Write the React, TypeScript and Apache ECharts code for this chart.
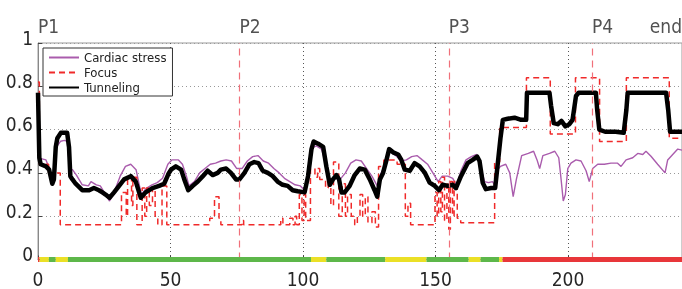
import React, { useEffect, useRef } from 'react';
import * as echarts from 'echarts';

const FONT = '"DejaVu Sans Condensed", "DejaVu Sans", sans-serif';

const cardiacStress: [number, number][] = [
  [0, 0.47], [1.5, 0.465], [3, 0.46], [4, 0.43], [5.4, 0.37], [6, 0.39], [7, 0.52], [8.5, 0.546], [10, 0.55],
  [11, 0.546], [12, 0.415], [13, 0.415], [14.5, 0.39], [16.7, 0.345], [19, 0.34], [20, 0.36], [22, 0.345],
  [23.5, 0.34], [25, 0.31], [27, 0.27], [29, 0.32], [31, 0.385], [33, 0.43], [35, 0.44], [37, 0.415],
  [39, 0.3], [41, 0.33], [43, 0.345], [45, 0.355], [47, 0.375], [49, 0.44], [50.5, 0.46], [53, 0.46],
  [54.5, 0.44], [56, 0.385], [57, 0.34], [59, 0.36], [61, 0.4], [63, 0.42], [65, 0.44], [67, 0.445],
  [69, 0.455], [71, 0.46], [73, 0.455], [75, 0.42], [77, 0.42], [79, 0.455], [81, 0.475], [83, 0.48],
  [85, 0.455], [87, 0.445], [89, 0.42], [91, 0.4], [93, 0.375], [95, 0.36], [97, 0.345], [99, 0.34],
  [100.6, 0.32], [102, 0.4], [103.5, 0.515], [105, 0.525], [107, 0.51], [108.8, 0.43], [110, 0.37],
  [112, 0.375], [114, 0.37], [116, 0.4], [118, 0.445], [120, 0.46], [122, 0.455], [124, 0.42],
  [126, 0.385], [128, 0.34], [129.5, 0.4], [131.5, 0.445], [132.5, 0.5], [135, 0.48], [137, 0.455],
  [139, 0.46], [141, 0.475], [143, 0.48], [145, 0.46], [147, 0.44], [149, 0.4], [151, 0.36],
  [152.5, 0.385], [154.6, 0.385], [156.5, 0.375], [158, 0.34], [159.6, 0.41], [161.5, 0.46],
  [163.5, 0.475], [165.5, 0.485], [167, 0.43], [168.5, 0.36], [170, 0.355], [171.5, 0.36],
  [172.5, 0.34], [173.5, 0.415], [174.5, 0.43], [176.5, 0.44], [178, 0.4], [179.3, 0.29], [180.5, 0.37],
  [182.5, 0.48], [185, 0.49], [187, 0.5], [188.3, 0.46], [189.3, 0.42], [190.5, 0.48], [193, 0.49],
  [195, 0.5], [196.5, 0.47], [197.3, 0.38], [198.2, 0.27], [199, 0.3], [199.9, 0.42], [201.1, 0.445],
  [203, 0.46], [204.9, 0.455], [206.8, 0.41], [208, 0.36], [209.3, 0.42], [211.2, 0.44], [213.7, 0.44],
  [216.2, 0.445], [218.7, 0.445], [220, 0.43], [221.9, 0.46], [224.4, 0.47], [226.3, 0.49],
  [228.2, 0.485], [229.4, 0.5], [231.3, 0.477], [233.8, 0.44], [236.6, 0.4], [237.6, 0.46],
  [239.5, 0.485], [241.4, 0.51], [243, 0.505],
];

const focus: [number, number][] = [
  [0, 0.82], [0.5, 0.44], [4, 0.4], [8.4, 0.16], [31.5, 0.31], [33.3, 0.2], [33.8, 0.38], [35.3, 0.25],
  [35.8, 0.38], [37.3, 0.16], [39.3, 0.33], [40.3, 0.2], [41, 0.33], [42, 0.25], [43.2, 0.33], [44.2, 0.2],
  [45.2, 0.16], [46.8, 0.34], [48.6, 0.16], [64.8, 0.19], [66.6, 0.29], [68.3, 0.19], [69, 0.16],
  [77, 0.18], [77.6, 0.16], [91.6, 0.19], [92.4, 0.16], [95, 0.19], [96.2, 0.16], [97, 0.2], [97.6, 0.16],
  [98.6, 0.3], [99.6, 0.18], [100.4, 0.3], [101, 0.18], [102.8, 0.42], [104.5, 0.38], [105.5, 0.42],
  [106.3, 0.37], [108.5, 0.33], [109.5, 0.37], [110.5, 0.25], [111.5, 0.45], [113.5, 0.2], [114.8, 0.35],
  [116, 0.2], [116.8, 0.3], [118.2, 0.2], [119.5, 0.16], [120.5, 0.2], [121.5, 0.3], [122.5, 0.2],
  [123.5, 0.29], [124.5, 0.17], [126, 0.22], [127.3, 0.15], [128.5, 0.43], [130.5, 0.46], [135.5, 0.44],
  [138.6, 0.2], [139.6, 0.26], [140.6, 0.16], [149.8, 0.31], [150.6, 0.2], [151.2, 0.36], [152, 0.22],
  [152.6, 0.38], [153.4, 0.18], [154.3, 0.35], [155, 0.14], [155.6, 0.36], [156.4, 0.2], [157, 0.36],
  [158.2, 0.19], [159.5, 0.17], [172.3, 0.45], [174.2, 0.61], [184.3, 0.84], [193.3, 0.58],
  [202.8, 0.84], [211.9, 0.545], [222, 0.84], [238.2, 0.56], [243, 0.56],
];

const tunneling: [number, number][] = [
  [0, 0.77], [0.5, 0.47], [1, 0.44], [3, 0.43], [4.2, 0.415], [5.4, 0.35], [6, 0.37], [6.7, 0.52],
  [7.3, 0.56], [8.6, 0.585], [11, 0.585], [11.7, 0.52], [12.2, 0.385], [13, 0.37], [14.2, 0.35],
  [16.7, 0.32], [19.3, 0.32], [21.1, 0.33], [23, 0.32], [24.3, 0.31], [25.5, 0.3], [27, 0.285],
  [28.7, 0.31], [30.6, 0.34], [32.5, 0.37], [35, 0.385], [36.9, 0.36], [38.8, 0.285], [40.6, 0.31],
  [43.2, 0.33], [45.7, 0.34], [47.6, 0.35], [49.4, 0.4], [50.2, 0.415], [52, 0.43], [54, 0.415],
  [55.2, 0.37], [56.7, 0.32], [58.4, 0.34], [60.3, 0.36], [62.2, 0.385], [64, 0.41], [65.9, 0.39],
  [67.8, 0.4], [69, 0.415], [71, 0.42], [72.8, 0.4], [74.7, 0.37], [76, 0.37], [77.9, 0.4], [79.8, 0.44],
  [81.6, 0.45], [83.2, 0.445], [84.8, 0.41], [86.7, 0.4], [88.6, 0.385], [90.4, 0.36], [92.3, 0.345],
  [94.2, 0.34], [96.1, 0.32], [98, 0.315], [100.6, 0.31], [101.9, 0.385], [103.2, 0.51], [104, 0.545],
  [105.7, 0.535], [107.6, 0.52], [108.8, 0.43], [110.1, 0.345], [111.3, 0.37], [112.6, 0.39],
  [113.6, 0.37], [114.5, 0.31], [115.7, 0.31], [117.6, 0.34], [119.5, 0.39], [121.4, 0.42],
  [123.3, 0.415], [125.2, 0.37], [127, 0.32], [128, 0.29], [129, 0.37], [130.2, 0.4], [131.5, 0.46],
  [132.5, 0.51], [134, 0.495], [135.9, 0.485], [137.1, 0.46], [138.4, 0.415], [140.3, 0.41],
  [142.1, 0.445], [144, 0.43], [146, 0.4], [147.8, 0.355], [149.7, 0.34], [151.3, 0.32], [152.7, 0.345],
  [154.6, 0.34], [156.5, 0.345], [157.7, 0.33], [159.6, 0.385], [162.1, 0.445], [164, 0.46],
  [165.7, 0.475], [166.6, 0.455], [167.8, 0.355], [169, 0.325], [171, 0.33], [172.5, 0.33],
  [173.5, 0.445], [174.5, 0.56], [175.4, 0.645], [177.2, 0.65], [179.8, 0.655], [182.3, 0.645],
  [184.2, 0.645], [184.5, 0.77], [187.3, 0.77], [193, 0.77], [193.6, 0.71], [194.6, 0.63], [196.1, 0.625],
  [197.5, 0.64], [199, 0.615], [200.5, 0.625], [201.7, 0.645], [203, 0.755], [204, 0.77], [210.5, 0.77],
  [211, 0.69], [211.8, 0.6], [214, 0.59], [218, 0.59], [221, 0.585], [222, 0.69], [222.5, 0.77],
  [237, 0.77], [237.8, 0.69], [238.5, 0.59], [243, 0.59],
];

const markerX = [0, 76, 155, 209, 243];
const markerLabels = ['P1', 'P2', 'P3', 'P4', 'end'];
const dashedMarkerX = [76, 155, 209];

const stateStarts = [0, 0.6, 4.1, 6.7, 11.3, 103, 108.8, 131, 146.6, 162.5, 167, 174, 175.3];
const stateEnd = 243;
const states = ['red', 'yellow', 'green', 'yellow', 'green', 'yellow', 'green', 'yellow', 'green', 'yellow', 'green', 'yellow', 'red'];
const stateColors: Record<string, string> = { red: '#e8363a', yellow: '#ebe026', green: '#5db74a' };

const X_MAX = 243;

export default function App() {
  const ref = useRef<HTMLDivElement>(null);
  useEffect(() => {
    if (!ref.current) return;
    const chart = echarts.init(ref.current, undefined, { renderer: 'svg' });

    const stateSeries = stateStarts.map((s, i) => ({
      type: 'line',
      name: 'state' + i,
      data: [[s, 0], [i + 1 < stateStarts.length ? stateStarts[i + 1] : stateEnd, 0]],
      symbol: 'none',
      clip: false,
      silent: true,
      lineStyle: { color: stateColors[states[i]], width: 5, cap: 'butt' },
      z: 5,
    }));

    chart.setOption({
      animation: false,
      grid: {
        left: 38, top: 43, width: 644, height: 216.5,
        containLabel: false, outerBoundsMode: 'none',
        show: true, borderColor: '#9a9a9a', borderWidth: 1,
      },
      legend: {
        data: ['Cardiac stress', 'Focus', 'Tunneling'],
        orient: 'vertical', left: 43, top: 48,
        itemWidth: 30, itemHeight: 14, itemGap: 2,
        padding: [3, 6, 2, 5],
        backgroundColor: '#fff', borderColor: '#333', borderWidth: 1, borderRadius: 0,
        itemStyle: { opacity: 0 },
        textStyle: { fontFamily: FONT, fontSize: 13, color: '#222' },
      },
      xAxis: {
        type: 'value', min: 0, max: X_MAX, interval: 50,
        axisLine: { show: true, lineStyle: { color: '#888' } },
        axisTick: { show: true, inside: true, length: 4, lineStyle: { color: '#444' } },
        axisLabel: { fontFamily: FONT, fontSize: 19, color: '#262626', margin: 10, showMaxLabel: false },
        splitLine: { show: true, lineStyle: { color: '#555', type: [1, 3], width: 1 } },
      },
      yAxis: {
        type: 'value', min: 0, max: 1, interval: 0.2,
        axisLine: { show: true, lineStyle: { color: '#888' } },
        axisTick: { show: true, inside: true, length: 4, lineStyle: { color: '#444' } },
        axisLabel: {
          fontFamily: FONT, fontSize: 19, color: '#262626', margin: 5,
          verticalAlign: 'bottom', lineHeight: 11,
        },
        splitLine: { show: true, lineStyle: { color: '#999', type: [1, 3], width: 1 } },
      },
      series: [
        {
          type: 'line', name: 'markers', data: [], silent: true,
          markLine: {
            silent: true, symbol: 'none', animation: false,
            label: { show: false },
            lineStyle: { color: '#f0707a', type: [7, 5], width: 1.2 },
            data: dashedMarkerX.map((x) => ({ xAxis: x })),
          },
        },
        {
          type: 'line', name: 'Cardiac stress', data: cardiacStress, symbol: 'none', showSymbol: false,
          lineStyle: { color: '#aa5cad', width: 1.4 }, itemStyle: { color: '#aa5cad' }, z: 2,
        },
        {
          type: 'line', name: 'Focus', data: focus, step: 'end', symbol: 'none', showSymbol: false,
          lineStyle: { color: '#f02a2a', width: 1.5, type: [6, 4] }, itemStyle: { color: '#f02a2a' }, z: 3,
        },
        {
          type: 'line', name: 'Tunneling', data: tunneling, symbol: 'none', showSymbol: false,
          lineStyle: { color: '#000', width: 4.5, join: 'round' }, itemStyle: { color: '#000' }, z: 4,
        },
        {
          type: 'scatter', name: 'labels', silent: true, clip: false, symbolSize: 0,
          data: markerX.map((x, i) => ({
            value: [x, 1],
            label: { align: i === markerX.length - 1 ? 'right' : 'left' },
          })),
          label: {
            show: true, position: 'top', distance: 8,
            fontFamily: FONT, fontSize: 19, color: '#262626',
            formatter: (p: any) => markerLabels[p.dataIndex],
          },
        },
        ...stateSeries,
      ],
    });
    return () => chart.dispose();
  }, []);
  return <div ref={ref} style={{ position: 'fixed', left: 0, top: 0, width: 682, height: 289 }} />;
}
